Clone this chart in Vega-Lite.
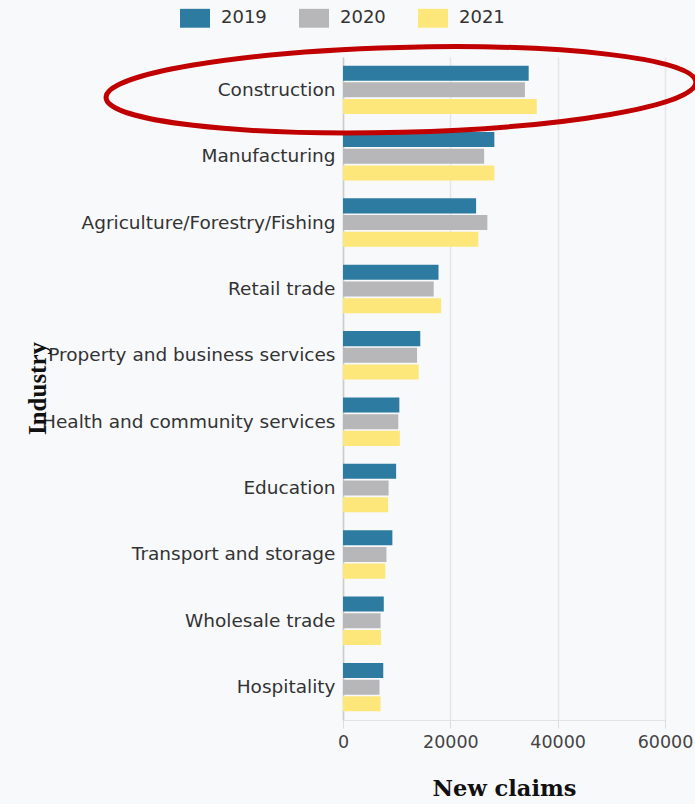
{
  "$schema": "https://vega.github.io/schema/vega-lite/v6.json",
  "autosize": {"type": "none"},
  "width": 322,
  "height": 663,
  "padding": {"left": 343, "top": 57, "right": 30, "bottom": 84},
  "background": "#f8f9fb",
  "config": {
    "view": {"stroke": null},
    "font": "DejaVu Sans"
  },
  "datasets": {
    "claims": [
      {"industry": "Construction", "year": "2019", "claims": 34600},
      {"industry": "Construction", "year": "2020", "claims": 33900},
      {"industry": "Construction", "year": "2021", "claims": 36100},
      {"industry": "Manufacturing", "year": "2019", "claims": 28200},
      {"industry": "Manufacturing", "year": "2020", "claims": 26300},
      {"industry": "Manufacturing", "year": "2021", "claims": 28200},
      {"industry": "Agriculture/Forestry/Fishing", "year": "2019", "claims": 24800},
      {"industry": "Agriculture/Forestry/Fishing", "year": "2020", "claims": 26900},
      {"industry": "Agriculture/Forestry/Fishing", "year": "2021", "claims": 25200},
      {"industry": "Retail trade", "year": "2019", "claims": 17800},
      {"industry": "Retail trade", "year": "2020", "claims": 16900},
      {"industry": "Retail trade", "year": "2021", "claims": 18300},
      {"industry": "Property and business services", "year": "2019", "claims": 14400},
      {"industry": "Property and business services", "year": "2020", "claims": 13800},
      {"industry": "Property and business services", "year": "2021", "claims": 14100},
      {"industry": "Health and community services", "year": "2019", "claims": 10500},
      {"industry": "Health and community services", "year": "2020", "claims": 10300},
      {"industry": "Health and community services", "year": "2021", "claims": 10600},
      {"industry": "Education", "year": "2019", "claims": 9900},
      {"industry": "Education", "year": "2020", "claims": 8500},
      {"industry": "Education", "year": "2021", "claims": 8400},
      {"industry": "Transport and storage", "year": "2019", "claims": 9200},
      {"industry": "Transport and storage", "year": "2020", "claims": 8100},
      {"industry": "Transport and storage", "year": "2021", "claims": 7900},
      {"industry": "Wholesale trade", "year": "2019", "claims": 7600},
      {"industry": "Wholesale trade", "year": "2020", "claims": 7000},
      {"industry": "Wholesale trade", "year": "2021", "claims": 7100},
      {"industry": "Hospitality", "year": "2019", "claims": 7500},
      {"industry": "Hospitality", "year": "2020", "claims": 6800},
      {"industry": "Hospitality", "year": "2021", "claims": 7000}
    ],
    "highlight": [
      {"industry": "Construction", "claims": 10800}
    ]
  },
  "layer": [
    {
      "data": {"name": "claims"},
      "mark": {"type": "bar"},
      "encoding": {
        "y": {
          "field": "industry",
          "type": "nominal",
          "sort": null,
          "scale": {"paddingInner": 0.27, "paddingOuter": 0.13},
          "axis": {
            "title": "Industry",
            "titleFont": "Liberation Serif",
            "titleFontSize": 25,
            "titleFontWeight": "bold",
            "titleColor": "#111111",
            "titleAngle": 270,
            "titleAlign": "center",
            "titleBaseline": "alphabetic",
            "titleX": -298,
            "titleY": 331,
            "ticks": false,
            "labelPadding": 8,
            "labelFont": "DejaVu Sans",
            "labelFontSize": 18.5,
            "labelColor": "#333333",
            "labelLimit": 400,
            "domainColor": "#cccccc",
            "domainWidth": 1.5
          }
        },
        "yOffset": {
          "field": "year",
          "type": "nominal",
          "scale": {"paddingInner": 0.1}
        },
        "x": {
          "field": "claims",
          "type": "quantitative",
          "scale": {"domain": [0, 60000], "nice": false},
          "axis": {
            "title": "New claims",
            "titleFont": "DejaVu Serif",
            "titleFontSize": 22.5,
            "titleFontWeight": "bold",
            "titleColor": "#111111",
            "titleBaseline": "alphabetic",
            "titleY": 75,
            "values": [0, 20000, 40000, 60000],
            "format": "d",
            "labelFlush": false,
            "labelFont": "DejaVu Sans",
            "labelFontSize": 17.5,
            "labelColor": "#444444",
            "labelPadding": 5,
            "tickSize": 8,
            "tickColor": "#dddddd",
            "domainColor": "#e2e2e2",
            "gridColor": "#e6e6e6",
            "gridWidth": 1.5
          }
        },
        "color": {
          "field": "year",
          "type": "nominal",
          "scale": {"domain": ["2019", "2020", "2021"], "range": ["#2e7ba2", "#b7b7ba", "#fde77b"]},
          "legend": {
            "title": null,
            "orient": "none",
            "direction": "horizontal",
            "legendX": -163,
            "legendY": -54,
            "symbolType": "M-1,-0.63H1V0.63H-1Z",
            "symbolSize": 900,
            "symbolStrokeWidth": 0,
            "labelFont": "DejaVu Sans",
            "labelFontSize": 18,
            "labelColor": "#333333",
            "labelOffset": 11,
            "columnPadding": 32
          }
        }
      }
    },
    {
      "data": {"name": "highlight"},
      "mark": {
        "type": "point",
        "shape": "M-1,0A1,0.144,0,0,1,1,0A1,0.144,0,0,1,-1,0Z",
        "size": 348100,
        "filled": false,
        "stroke": "#c00000",
        "strokeWidth": 5,
        "opacity": 1,
        "angle": -1.5,
        "clip": false
      },
      "encoding": {
        "x": {"field": "claims", "type": "quantitative"},
        "y": {"field": "industry", "type": "nominal", "sort": null}
      }
    }
  ]
}
